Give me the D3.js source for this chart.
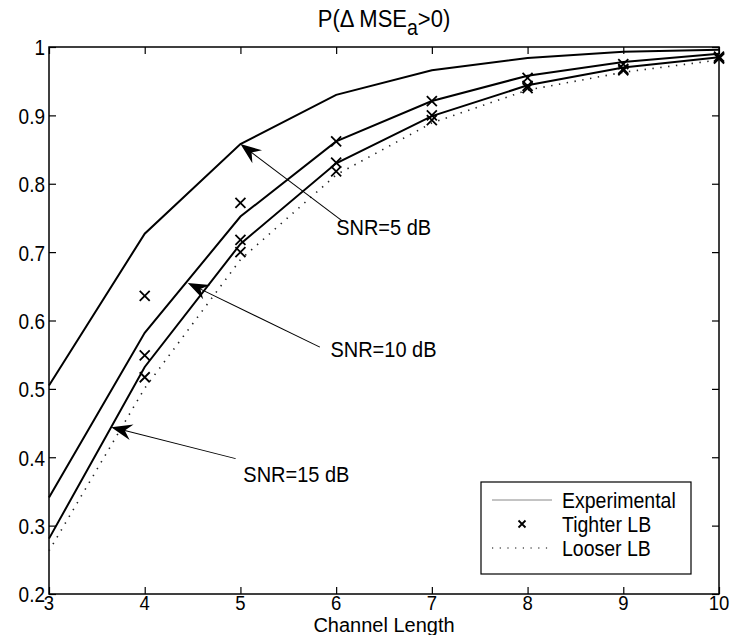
<!DOCTYPE html>
<html><head><meta charset="utf-8">
<script src="https://cdn.jsdelivr.net/npm/d3@7/dist/d3.min.js"></script>
<style>body{margin:0;background:#fff;} text{font-family:"Liberation Sans",Arial,sans-serif;fill:#000;}</style>
</head><body>
<svg id="c" width="732" height="635"></svg>
<script>
const channelLength = [3,4,5,6,7,8,9,10];
const expSNR5  = [0.505,0.727,0.858,0.930,0.966,0.984,0.993,0.996];
const expSNR10 = [0.341,0.582,0.752,0.862,0.921,0.958,0.978,0.990];
const expSNR15 = [0.281,0.532,0.712,0.830,0.899,0.944,0.970,0.985];
const tightX   = [4,5,6,7,8,9,10];
const tightSNR5  = [0.636,0.772,0.862,0.921,0.955,0.975,0.986];
const tightSNR10 = [0.549,0.718,0.831,0.900,0.943,0.968,0.984];
const tightSNR15 = [0.517,0.700,0.818,0.893,0.940,0.966,0.983];
const looser = [0.263,0.501,0.689,0.813,0.889,0.937,0.963,0.981];
const xTicks = [3,4,5,6,7,8,9,10];
const yTicks = [0.2,0.3,0.4,0.5,0.6,0.7,0.8,0.9,1];
const annotations = [
  {label:"SNR=5 dB",  tip:[5.0,0.858],  tail:[6.07,0.745], text:[6.0,0.737]},
  {label:"SNR=10 dB", tip:[4.45,0.655], tail:[5.83,0.561], text:[5.94,0.558]},
  {label:"SNR=15 dB", tip:[3.65,0.444], tail:[4.95,0.398], text:[5.03,0.375]}
];
const legendItems = ["Experimental","Tighter LB","Looser LB"];

const L=49,R=719,T=47,B=594;
const SY=1.12;
const svg=d3.select("#c");
const x=d3.scaleLinear().domain([3,10]).range([L,R]);
const y=d3.scaleLinear().domain([0.2,1]).range([B,T]);
const FS=19;

function addText(parent,px,py,str,size,anchor,sy){
  const g=parent.append("g").attr("transform",`translate(${px},${py}) scale(1,${sy||SY})`);
  return g.append("text").attr("x",0).attr("y",0).attr("dy","0.35em").attr("font-size",size)
    .attr("text-anchor",anchor||"start").text(str);
}

// axes box
svg.append("rect").attr("x",L).attr("y",T).attr("width",R-L).attr("height",B-T)
  .attr("fill","none").attr("stroke","#000").attr("stroke-width",1.5);
const xa=svg.append("g").attr("transform",`translate(0,${B})`)
  .call(d3.axisBottom(x).tickValues(xTicks).tickSize(-7).tickFormat(""));
const xt=svg.append("g").attr("transform",`translate(0,${T})`)
  .call(d3.axisTop(x).tickValues(xTicks).tickSize(-7).tickFormat(""));
const ya=svg.append("g").attr("transform",`translate(${L},0)`)
  .call(d3.axisLeft(y).tickValues(yTicks).tickSize(-7).tickFormat(""));
const yr=svg.append("g").attr("transform",`translate(${R},0)`)
  .call(d3.axisRight(y).tickValues(yTicks).tickSize(-7).tickFormat(""));
[xa,xt,ya,yr].forEach(g=>{g.select(".domain").remove();
  g.selectAll("line").attr("stroke","#000").attr("stroke-width",1.2);});
xTicks.forEach(t=>addText(svg,x(t),B+9,d3.format("d")(t),18.5,"middle",1.05));
yTicks.forEach(t=>addText(svg,L-4,y(t)+1,t===1?"1":d3.format(".1f")(t),FS,"end"));

// curves
const line=d3.line().x(d=>x(d[0])).y(d=>y(d[1]));
[expSNR5,expSNR10,expSNR15].forEach(s=>{
  svg.append("path").datum(channelLength.map((c,i)=>[c,s[i]])).attr("d",line)
    .attr("fill","none").attr("stroke","#000").attr("stroke-width",2);
});
svg.append("path").datum(channelLength.map((c,i)=>[c,looser[i]])).attr("d",line)
  .attr("fill","none").attr("stroke","#222").attr("stroke-width",1.6).attr("stroke-dasharray","1.4,6.5");
function cross(g,cx,cy,h){
  g.append("path").attr("d",`M${cx-h},${cy-h}L${cx+h},${cy+h}M${cx-h},${cy+h}L${cx+h},${cy-h}`)
   .attr("stroke","#000").attr("stroke-width",1.8).attr("fill","none");
}
[tightSNR5,tightSNR10,tightSNR15].forEach(s=>{
  tightX.forEach((c,i)=>cross(svg,x(c),y(s[i]),5));
});

// annotations
annotations.forEach(a=>{
  const x1=x(a.tail[0]),y1=y(a.tail[1]),x2=x(a.tip[0]),y2=y(a.tip[1]);
  const ang=Math.atan2(y2-y1,x2-x1);
  const len=Math.hypot(x2-x1,y2-y1);
  const g=svg.append("g").attr("transform",`translate(${x2},${y2}) rotate(${ang*180/Math.PI})`);
  g.append("line").attr("x1",-len).attr("y1",0).attr("x2",-13).attr("y2",0).attr("stroke","#000").attr("stroke-width",1);
  g.append("path").attr("d","M0,0 L-21,-8 L-14,0 L-21,8 Z").attr("fill","#000");
  addText(svg,x(a.text[0]),y(a.text[1]),a.label,20,"start");
});

// title and x label
const tg=svg.append("g").attr("transform",`translate(${(L+R)/2},27) scale(1,${SY})`);
const title=tg.append("text").attr("x",0).attr("y",0).attr("text-anchor","middle").attr("font-size",22);
title.append("tspan").text("P(\u0394 MSE");
title.append("tspan").attr("font-size",19.5).attr("dy",7).text("a");
title.append("tspan").attr("dy",-7).text(">0)");
addText(svg,(L+R)/2,624.5,"Channel Length",20,"middle",1.0);

// legend
const lg=svg.append("g");
const bx=481,by=482,bw=210,bh=92;
lg.append("rect").attr("x",bx).attr("y",by).attr("width",bw).attr("height",bh).attr("fill","#fff").attr("stroke","#000").attr("stroke-width",1.2);
legendItems.forEach((name,i)=>{
  const cy=by+18+i*24;
  if(i===0) lg.append("line").attr("x1",bx+11).attr("x2",bx+71).attr("y1",cy).attr("y2",cy).attr("stroke","#888").attr("stroke-width",1);
  if(i===1) cross(lg,bx+41,cy,3.5);
  if(i===2) lg.append("line").attr("x1",bx+11).attr("x2",bx+71).attr("y1",cy).attr("y2",cy).attr("stroke","#555").attr("stroke-width",1.4).attr("stroke-dasharray","1.2,6.5");
  addText(lg,bx+81,cy,name,19.5,"start");
});
</script>
</body></html>
